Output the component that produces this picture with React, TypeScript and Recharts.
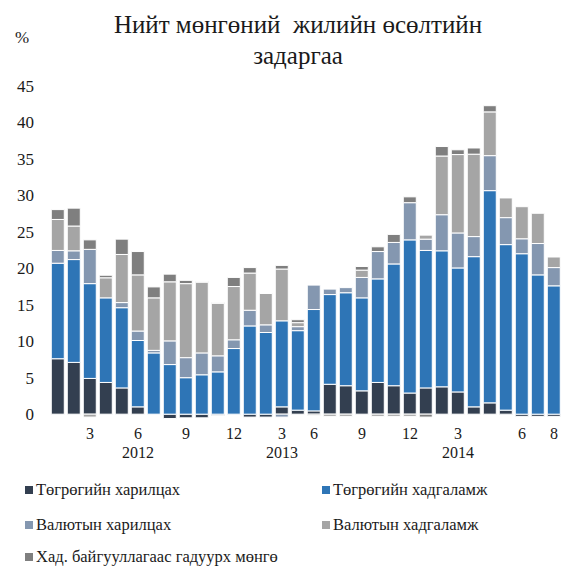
import React from 'react';
import { Bar, BarChart, XAxis, YAxis } from 'recharts';

// Monthly periods, Jan 2012 – Aug 2014
const periods = [
  '2012-01', '2012-02', '2012-03', '2012-04', '2012-05', '2012-06', '2012-07', '2012-08',
  '2012-09', '2012-10', '2012-11', '2012-12', '2013-01', '2013-02', '2013-03', '2013-04',
  '2013-05', '2013-06', '2013-07', '2013-08', '2013-09', '2013-10', '2013-11', '2013-12',
  '2014-01', '2014-02', '2014-03', '2014-04', '2014-05', '2014-06', '2014-07', '2014-08',
];

// tick labels as they sit on the original axis
const monthLabels = [
  '', '', '3', '', '', '6', '', '', '9', '', '', '12', '', '', '3', '',
  '6', '', '', '9', '', '', '12', '', '', '3', '', '', '', '6', '', '8',
];
const yearLabels = [
  '', '', '', '', '', '2012', '', '', '', '', '', '', '', '', '2013', '',
  '', '', '', '', '', '', '', '', '', '2014', '', '', '', '', '', '',
];

const togKhar = [
  7.6, 7.1, 4.9, 4.35, 3.6, 1.0, 0, -0.6, -0.5, -0.5, -0.2, 0, -0.4, -0.4, 1.0, 0.55,
  0.45, 4.1, 3.9, 3.2, 4.35, 3.9, 2.9, 3.6, 3.75, 3.05, 1.0, 1.55, 0.55, -0.3, -0.3, -0.3,
];
const togKhad = [
  13.1, 14.1, 13.0, 11.6, 11.0, 9.1, 8.4, 6.8, 5.0, 5.4, 5.8, 9.0, 12.1, 11.2, 11.8, 10.9,
  13.9, 12.3, 12.75, 12.75, 14.2, 16.7, 21.0, 18.85, 18.65, 17.0, 20.6, 29.1, 22.7, 22.0, 19.1, 17.6,
];
const valKhar = [
  1.75, 1.2, 4.7, 0, 0.7, 1.3, 0.35, 3.25, 2.75, 3.0, 2.2, 1.2, 2.15, 1.05, -0.4, 0.55,
  3.35, 0.75, 0.7, 2.8, 3.75, 2.95, 5.1, 1.55, 4.95, 4.8, 2.75, 4.8, 3.7, 2.05, 4.3, 2.5,
];
const valKhad = [
  4.25, 3.4, -0.4, 2.75, 6.6, 7.7, 7.2, 8.1, 10.15, 9.7, 7.2, 7.3, 5.1, 4.3, 7.1, 0.55,
  -0.2, -0.3, -0.3, 1.0, -0.3, -0.3, -0.3, 0.55, 8.05, 10.75, 11.3, 6.0, 2.7, 4.4, 4.15, 1.45,
];
const gaduur = [
  1.35, 2.45, 1.3, 0.35, 2.1, 3.2, 1.5, 1.05, 0.45, 0.1, 0.1, 1.25, 0.75, 0, 0.5, 0.4,
  0, 0, 0, 0.5, 0.65, 1.1, 0.8, -0.4, 1.3, 0.65, 0.85, 0.85, 0, 0, 0, 0,
];

const yTicks = [0, 5, 10, 15, 20, 25, 30, 35, 40, 45];

const series = [
  { key: 'togKhar', name: 'Төгрөгийн харилцах', color: '#333f50' },
  { key: 'togKhad', name: 'Төгрөгийн хадгаламж', color: '#2e75b6' },
  { key: 'valKhar', name: 'Валютын харилцах', color: '#8497b0' },
  { key: 'valKhad', name: 'Валютын хадгаламж', color: '#a5a5a5' },
  { key: 'gaduur', name: 'Хад. байгууллагаас гадуурх мөнгө', color: '#7f7f7f' },
];

const data = periods.map((p, i) => ({
  period: p,
  togKhar: togKhar[i],
  togKhad: togKhad[i],
  valKhar: valKhar[i],
  valKhad: valKhad[i],
  gaduur: gaduur[i],
}));

const FONT = "'Liberation Serif', 'DejaVu Serif', serif";

const MonthTick = (props: any) => {
  const { x, y, payload } = props;
  const i = payload.index;
  return (
    <g>
      <text x={x} y={y} dy="0.71em" textAnchor="middle" fontSize={16} fill="#1a1a1a" style={{ fontFamily: FONT }}>
        {monthLabels[i]}
      </text>
      <text x={x} y={y + 19} dy="0.71em" textAnchor="middle" fontSize={16} fill="#1a1a1a" style={{ fontFamily: FONT }}>
        {yearLabels[i]}
      </text>
    </g>
  );
};

const legendPos = [
  { left: 25, top: 490 },
  { left: 322, top: 490 },
  { left: 25, top: 525 },
  { left: 322, top: 525 },
  { left: 25, top: 557 },
];

export default function App() {
  return (
    <div
      style={{
        position: 'absolute',
        left: 0,
        top: 0,
        width: 565,
        height: 566,
        background: '#fff',
        fontFamily: FONT,
        color: '#1a1a1a',
      }}
    >
      <div
        style={{
          position: 'absolute',
          left: 40,
          width: 516,
          top: 9,
          textAlign: 'center',
          fontSize: 25,
          lineHeight: '31px',
          whiteSpace: 'pre',
        }}
      >
        {'Нийт мөнгөний  жилийн өсөлтийн\nзадаргаа'}
      </div>
      <div style={{ position: 'absolute', left: 15, top: 28, fontSize: 17 }}>%</div>

      <BarChart
        width={565}
        height={566}
        data={data}
        stackOffset="sign"
        barCategoryGap="8%"
        margin={{ top: 86, right: 3, bottom: 106, left: 10 }}
        style={{ fontFamily: FONT }}
      >
        <XAxis
          dataKey="period"
          axisLine={false}
          tickLine={false}
          interval={0}
          height={40}
          tick={<MonthTick />}
        />
        <YAxis
          type="number"
          domain={[-0.8, 45]}
          ticks={yTicks}
          allowDataOverflow
          axisLine={false}
          tickLine={false}
          tickSize={0}
          tickMargin={16}
          width={40}
          tick={{ fontSize: 17, fill: '#1a1a1a', style: { fontFamily: FONT } }}
        />
        {series.map((s) => (
          <Bar
            key={s.key}
            dataKey={s.key}
            name={s.name}
            stackId="m"
            fill={s.color}
            stroke="#ffffff"
            strokeWidth={1}
            isAnimationActive={false}
          />
        ))}
      </BarChart>

      {series.map((s, i) => (
        <div
          key={s.key}
          style={{
            position: 'absolute',
            left: legendPos[i].left,
            top: legendPos[i].top - 10,
            height: 20,
            display: 'flex',
            alignItems: 'center',
            fontSize: 16.5,
            whiteSpace: 'nowrap',
          }}
        >
          <span style={{ width: 8, height: 8, background: s.color, marginRight: 3, display: 'inline-block' }} />
          {s.name}
        </div>
      ))}
    </div>
  );
}
